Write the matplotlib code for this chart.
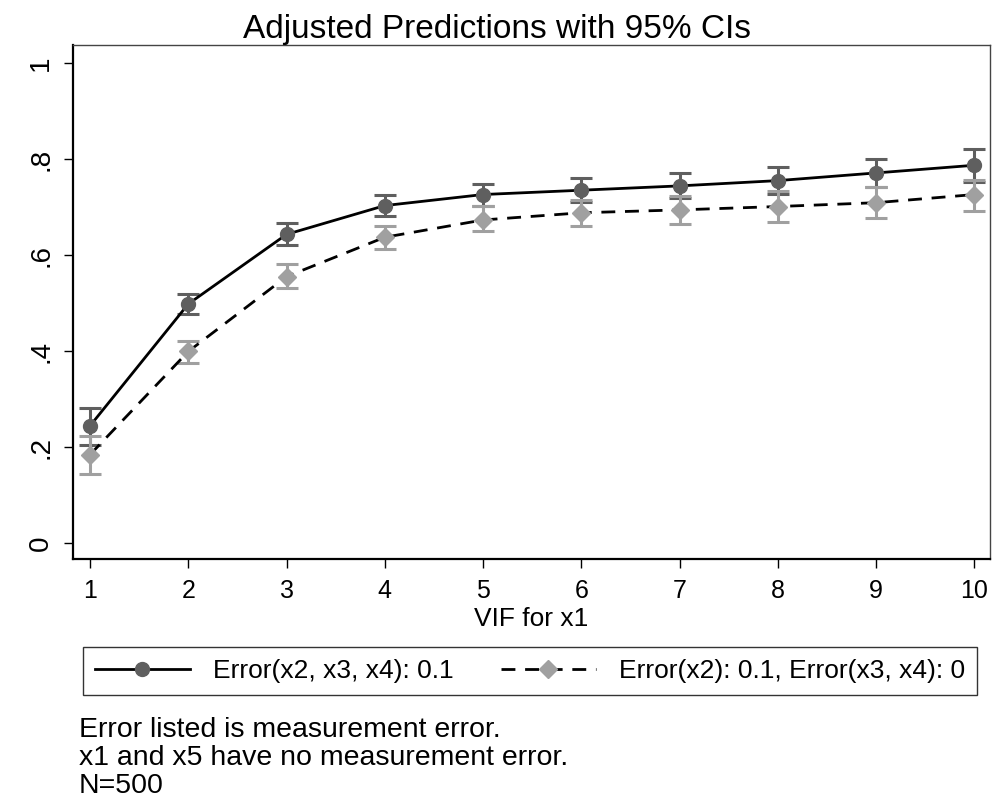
import matplotlib
matplotlib.use("Agg")
import matplotlib.pyplot as plt
from matplotlib.lines import Line2D

plt.rcParams['font.family'] = ['Liberation Sans', 'DejaVu Sans']

vif = [1, 2, 3, 4, 5, 6, 7, 8, 9, 10]
m1 = [0.244, 0.498, 0.643, 0.703, 0.726, 0.735, 0.744, 0.755, 0.771, 0.787]
lo1 = [0.204, 0.478, 0.620, 0.681, 0.703, 0.710, 0.718, 0.727, 0.741, 0.753]
hi1 = [0.281, 0.518, 0.666, 0.725, 0.747, 0.760, 0.770, 0.783, 0.801, 0.821]
m2 = [0.184, 0.399, 0.555, 0.637, 0.673, 0.688, 0.694, 0.701, 0.709, 0.726]
lo2 = [0.144, 0.374, 0.531, 0.612, 0.650, 0.661, 0.664, 0.669, 0.678, 0.691]
hi2 = [0.223, 0.421, 0.581, 0.660, 0.702, 0.715, 0.722, 0.733, 0.741, 0.757]

yticks = [0, 0.2, 0.4, 0.6, 0.8, 1.0]
ytick_labels = ["0", ".2", ".4", ".6", ".8", "1"]
label1 = "Error(x2, x3, x4): 0.1"
label2 = "Error(x2): 0.1, Error(x3, x4): 0"
title = "Adjusted Predictions with 95% CIs"
xlabel = "VIF for x1"
notes = ["Error listed is measurement error.",
         "x1 and x5 have no measurement error.",
         "N=500"]

c1 = "#5f5f5f"
c2 = "#a0a0a0"

W, H = 995, 802
fig = plt.figure(figsize=(W / 100, H / 100), dpi=100)
ax = fig.add_axes([73 / W, 1 - 559 / H, (990 - 73) / W, (559 - 45) / H])

err1 = [[m - l for m, l in zip(m1, lo1)], [h - m for m, h in zip(m1, hi1)]]
err2 = [[m - l for m, l in zip(m2, lo2)], [h - m for m, h in zip(m2, hi2)]]

ax.errorbar(vif, m1, yerr=err1, fmt='none', ecolor=c1, elinewidth=2.2,
            capsize=8, capthick=2.2, zorder=2)
ax.errorbar(vif, m2, yerr=err2, fmt='none', ecolor=c2, elinewidth=2.2,
            capsize=8, capthick=2.2, zorder=2)
ax.plot(vif, m1, color='black', lw=2, zorder=3)
ax.plot(vif, m2, color='black', lw=2, ls=(0, (5, 3.5)), zorder=3)
ax.plot(vif, m1, 'o', color=c1, ms=10, mec=c1, zorder=4)
ax.plot(vif, m2, 'D', color=c2, ms=9.5, mec=c2, zorder=4)

ax.set_xlim(0.827, 10.158)
ax.set_ylim(-0.0333, 1.0375)
ax.set_xticks(vif)
ax.set_xticklabels([str(v) for v in vif], fontsize=18)
ax.set_yticks(yticks)
ax.set_yticklabels(ytick_labels, fontsize=20, rotation=90, va='center')
ax.tick_params(axis='both', length=6.5, width=1, color='black')
ax.tick_params(axis='x', pad=8)
ax.tick_params(axis='y', pad=7)
ax.set_xlabel(xlabel, fontsize=19, va='baseline')
ax.xaxis.set_label_coords(0.5, (559 - 626) / (559 - 45))

for s in ['top', 'right']:
    ax.spines[s].set_linewidth(1)
    ax.spines[s].set_color('#444444')
for s in ['left', 'bottom']:
    ax.spines[s].set_linewidth(1.6)
    ax.spines[s].set_color('black')

fig.text(0.5, 1 - 38 / H, title, fontsize=24, ha='center', va='baseline')

h1 = Line2D([], [], color='black', lw=2, marker='o', ms=10, mfc=c1, mec=c1)
h2 = Line2D([], [], color='black', lw=2, ls=(0, (5, 3.5)), marker='D', ms=9.5,
            mfc=c2, mec=c2)
leg = fig.legend([h1, h2], [label1, label2], ncol=2, numpoints=1,
                 loc='upper left', bbox_to_anchor=(83 / W, 1 - 647 / H),
                 fontsize=19, handlelength=3.6,
                 frameon=True, fancybox=False, edgecolor='black',
                 borderaxespad=0, borderpad=0.45, columnspacing=1.8,
                 handletextpad=0.87)
leg.get_frame().set_linewidth(1)

for i, line in enumerate(notes):
    fig.text(79 / W, 1 - (737 + 28 * i) / H, line, fontsize=20.5,
             ha='left', va='baseline')

fig.savefig("out.png", dpi=100, facecolor='white')
